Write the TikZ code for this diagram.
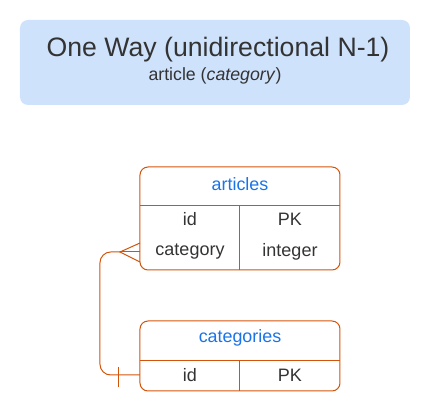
\documentclass[tikz,border=0pt]{standalone}
\usepackage{fontspec}
\setmainfont{Liberation Sans}
\usetikzlibrary{positioning}
\definecolor{erline}{RGB}{210,84,10}
\definecolor{titlefill}{RGB}{207,226,252}
\definecolor{headblue}{RGB}{26,115,232}
\definecolor{txt}{RGB}{51,51,51}
\tikzset{
  entbox/.style={draw=erline, line width=0.75pt, rounded corners=6pt},
  cell/.style={text=txt, font=\fontsize{13.5}{16}\selectfont, anchor=center},
  head/.style={text=headblue, font=\fontsize{13.4}{16}\selectfont, anchor=center},
  rel/.style={draw=erline, line width=0.75pt}
}
\begin{document}
\begin{tikzpicture}[x=0.75pt, y=-0.75pt]
    \useasboundingbox (0,0) rectangle (430,413);

    % Title box
    \fill[titlefill, rounded corners=6pt] (20,20) rectangle (410,105);
    \node[text=txt, font=\fontsize{20}{24}\selectfont] (title) at (218,50) {One Way (unidirectional N-1)};
    \node[text=txt, font=\fontsize{13.3}{16}\selectfont] (subtitle) at (215,76) {article (\textit{category})};

    % articles table
    \draw[entbox] (140,167) rectangle (340,270);
    \draw[erline, line width=0.75pt] (140,206) -- (340,206);
    \draw[erline, line width=0.75pt] (240,206) -- (240,270);
    \node[head] (articles) at (240,184) {articles};
    \node[cell] (artid) at (190,219) {id};
    \node[cell] (artidtype) at (290,219) {PK};
    \node[cell] (artcat) at (190,252) {category};
    \node[cell] (artcattype) at (290,252) {integer};

    % categories table
    \draw[entbox] (140,321) rectangle (340,391);
    \draw[erline, line width=0.75pt] (140,361) -- (340,361);
    \draw[erline, line width=0.75pt] (240,361) -- (240,391);
    \node[head] (categories) at (240,338) {categories};
    \node[cell] (catid) at (190,375) {id};
    \node[cell] (catidtype) at (290,375) {PK};

    % relation: many articles -> one category
    \coordinate (crow) at (120,252);
    \coordinate (bar) at (119,375);
    \draw[rel] (140,243) -- (crow) -- (140,262);
    \draw[rel] (140,252) -- (crow);
    \draw[rel, rounded corners=8pt] (crow) -- (100,252) -- (100,375) -- (140,375);
    \draw[rel] (119,367) -- (119,387);
\end{tikzpicture}
\end{document}
